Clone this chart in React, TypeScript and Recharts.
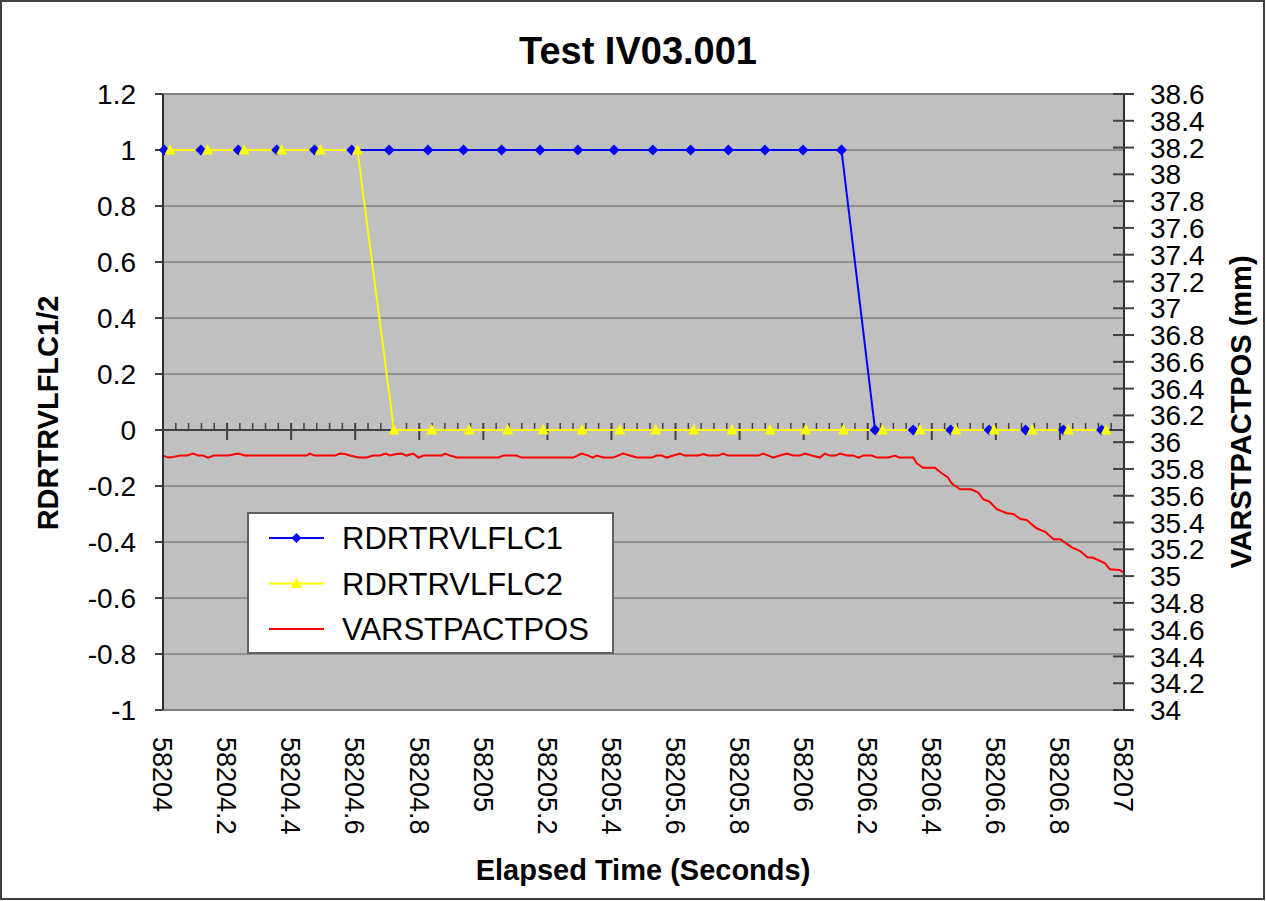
import React from 'react';
import {
  LineChart,
  Line,
  XAxis,
  YAxis,
  CartesianGrid,
  ReferenceLine,
  Legend,
  Label
} from 'recharts';

const FONT = "'Liberation Sans', Arial, sans-serif";

// axis ticks
const xTicks = [
  58204, 58204.2, 58204.4, 58204.6, 58204.8, 58205, 58205.2, 58205.4,
  58205.6, 58205.8, 58206, 58206.2, 58206.4, 58206.6, 58206.8, 58207
];
const leftTicks = [-1, -0.8, -0.6, -0.4, -0.2, 0, 0.2, 0.4, 0.6, 0.8, 1, 1.2];
const rightTicks = [
  34, 34.2, 34.4, 34.6, 34.8, 35, 35.2, 35.4, 35.6, 35.8, 36, 36.2,
  36.4, 36.6, 36.8, 37, 37.2, 37.4, 37.6, 37.8, 38, 38.2, 38.4, 38.6
];

// RDRTRVLFLC1
const lfc1Time = [
  58204.004, 58204.118, 58204.235, 58204.355, 58204.473, 58204.589, 58204.706,
  58204.827, 58204.938, 58205.057, 58205.177, 58205.295, 58205.408, 58205.529,
  58205.647, 58205.765, 58205.879, 58205.998, 58206.118, 58206.223, 58206.342,
  58206.459, 58206.579, 58206.693, 58206.811, 58206.93
];
const lfc1Value = [
  1, 1, 1, 1, 1, 1, 1, 1, 1, 1, 1, 1, 1, 1, 1, 1, 1, 1, 1,
  0, 0, 0, 0, 0, 0, 0
];

// RDRTRVLFLC2
const lfc2Time = [
  58204.022, 58204.139, 58204.253, 58204.37, 58204.491, 58204.607, 58204.721,
  58204.839, 58204.956, 58205.076, 58205.187, 58205.308, 58205.426, 58205.538,
  58205.657, 58205.776, 58205.895, 58206.006, 58206.124, 58206.246, 58206.363,
  58206.475, 58206.594, 58206.713, 58206.826, 58206.944
];
const lfc2Value = [
  1, 1, 1, 1, 1, 1,
  0, 0, 0, 0, 0, 0, 0, 0, 0, 0, 0, 0, 0, 0, 0, 0, 0, 0, 0, 0
];

// VARSTPACTPOS (mm)
const posTime = [
  58204.0, 58204.016, 58204.032, 58204.053, 58204.074, 58204.094, 58204.11,
  58204.125, 58204.141, 58204.158, 58204.204, 58204.235, 58204.256, 58204.448,
  58204.458, 58204.474, 58204.537, 58204.553, 58204.568, 58204.584, 58204.61,
  58204.636, 58204.656, 58204.677, 58204.696, 58204.708, 58204.729, 58204.745,
  58204.76, 58204.781, 58204.797, 58204.813, 58204.87, 58204.881, 58204.896,
  58204.917, 58205.046, 58205.062, 58205.104, 58205.119, 58205.281, 58205.307,
  58205.328, 58205.341, 58205.354, 58205.374, 58205.405, 58205.436, 58205.458,
  58205.479, 58205.526, 58205.541, 58205.557, 58205.573, 58205.593, 58205.614,
  58205.629, 58205.671, 58205.686, 58205.702, 58205.733, 58205.749, 58205.764,
  58205.859, 58205.874, 58205.89, 58205.905, 58205.926, 58205.947, 58205.968,
  58205.988, 58206.004, 58206.025, 58206.051, 58206.066, 58206.082, 58206.098,
  58206.114, 58206.135, 58206.155, 58206.171, 58206.186, 58206.213, 58206.228,
  58206.264, 58206.285, 58206.298, 58206.342, 58206.353, 58206.373, 58206.41,
  58206.431, 58206.45, 58206.462, 58206.488, 58206.522, 58206.545, 58206.561,
  58206.58, 58206.603, 58206.634, 58206.654, 58206.677, 58206.696, 58206.727,
  58206.754, 58206.78, 58206.801, 58206.837, 58206.863, 58206.886, 58206.904,
  58206.941, 58206.956, 58206.987, 58207.0
];
const posValue = [
  35.9, 35.885, 35.89, 35.9, 35.9, 35.915, 35.9,
  35.9, 35.885, 35.9, 35.9, 35.915, 35.9, 35.9,
  35.915, 35.9, 35.9, 35.915, 35.912, 35.9, 35.885,
  35.885, 35.9, 35.9, 35.915, 35.9, 35.912, 35.915,
  35.9, 35.915, 35.885, 35.9, 35.9, 35.915, 35.9,
  35.885, 35.885, 35.9, 35.9, 35.885, 35.885, 35.915,
  35.9, 35.885, 35.9, 35.885, 35.885, 35.915, 35.9,
  35.885, 35.885, 35.9, 35.9, 35.885, 35.9, 35.915,
  35.9, 35.9, 35.912, 35.9, 35.9, 35.915, 35.9,
  35.9, 35.915, 35.9, 35.885, 35.9, 35.915, 35.9,
  35.9, 35.915, 35.9, 35.885, 35.915, 35.9, 35.9,
  35.915, 35.9, 35.9, 35.885, 35.9, 35.9, 35.885,
  35.885, 35.9, 35.885, 35.885, 35.842, 35.809, 35.809,
  35.768, 35.738, 35.693, 35.648, 35.648, 35.623, 35.573,
  35.556, 35.499, 35.469, 35.464, 35.426, 35.419, 35.357,
  35.331, 35.275, 35.275, 35.215, 35.187, 35.14, 35.137,
  35.095, 35.051, 35.045, 35.025
];

const lfc1Data = lfc1Time.map((t, i) => ({ t, v: lfc1Value[i] }));
const lfc2Data = lfc2Time.map((t, i) => ({ t, v: lfc2Value[i] }));
const posData = posTime.map((t, i) => ({ t, v: posValue[i] }));

// small tick marks on the zero line, every 0.04 s
const minorTicks: number[] = [];
for (let i = 1; i < 75; i++) {
  if (i % 5 !== 0) minorTicks.push(58204 + i * 0.04);
}

const Diamond = (p: any) => {
  const { cx, cy, index } = p;
  if (cx == null || cy == null) return <g key={`d${index}`} />;
  const r = 5.5;
  return (
    <path
      key={`d${index}`}
      d={`M${cx},${cy - r}L${cx + r},${cy}L${cx},${cy + r}L${cx - r},${cy}Z`}
      fill="#0000ff"
    />
  );
};

const Triangle = (p: any) => {
  const { cx, cy, index } = p;
  if (cx == null || cy == null) return <g key={`t${index}`} />;
  return (
    <path
      key={`t${index}`}
      d={`M${cx},${cy - 6}L${cx + 5.5},${cy + 4.5}L${cx - 5.5},${cy + 4.5}Z`}
      fill="#ffff00"
    />
  );
};

const XTick = (p: any) => (
  <text
    x={p.x}
    y={p.y}
    transform={`rotate(90 ${p.x} ${p.y})`}
    dy="0.36em"
    textAnchor="start"
    fontSize={27}
    fontFamily={FONT}
    fill="#000"
  >
    {String(p.payload.value)}
  </text>
);

const RightTick = (p: any) => {
  const axisX = p.x - 26;
  return (
    <g>
      <line x1={axisX - 11} x2={axisX + 10} y1={p.y} y2={p.y} stroke="#404040" strokeWidth={2} />
      <text x={p.x} y={p.y} dy="0.36em" textAnchor="start" fontSize={28} fontFamily={FONT} fill="#000">
        {String(p.payload.value)}
      </text>
    </g>
  );
};

const LegendBox = () => {
  const rows = [
    { name: 'RDRTRVLFLC1', color: '#0000ff', marker: 'diamond' },
    { name: 'RDRTRVLFLC2', color: '#ffff00', marker: 'triangle' },
    { name: 'VARSTPACTPOS', color: '#ff0000', marker: 'none' }
  ];
  return (
    <svg width={367} height={142} style={{ display: 'block' }}>
      <rect x={1} y={1} width={365} height={140} fill="#fff" stroke="#606060" strokeWidth={2} />
      {rows.map((r, i) => {
        const y = 26 + i * 45.5;
        return (
          <g key={r.name}>
            <line x1={22} x2={77} y1={y} y2={y} stroke={r.color} strokeWidth={2} />
            {r.marker === 'diamond' && (
              <path d={`M49.5,${y - 5}L54.5,${y}L49.5,${y + 5}L44.5,${y}Z`} fill={r.color} />
            )}
            {r.marker === 'triangle' && (
              <path d={`M49.5,${y - 6}L55,${y + 4.5}L44,${y + 4.5}Z`} fill={r.color} />
            )}
            <text x={95} y={y} dy="0.36em" fontSize={31} fontFamily={FONT} fill="#000">
              {r.name}
            </text>
          </g>
        );
      })}
    </svg>
  );
};

const App: React.FC = () => {
  return (
    <div style={{ position: 'absolute', left: 0, top: 0, width: 1266, height: 901, background: '#fff' }}>
      <LineChart
        width={1266}
        height={901}
        margin={{ top: 94, right: 82, bottom: 161, left: 103 }}
      >
        <CartesianGrid
          yAxisId="left"
          vertical={false}
          stroke="#606060"
          fill="#c0c0c0"
          fillOpacity={1}
        />
        <XAxis
          dataKey="t"
          type="number"
          domain={[58204, 58207]}
          ticks={xTicks}
          interval={0}
          height={30}
          tickSize={0}
          tickMargin={27}
          tickLine={false}
          axisLine={{ stroke: '#808080', strokeWidth: 2 }}
          tick={XTick}
        >
          <Label
            content={() => (
              <text x={643} y={870} textAnchor="middle" dominantBaseline="central" fontSize={29} fontWeight="bold" fontFamily={FONT} fill="#000">
                Elapsed Time (Seconds)
              </text>
            )}
          />
        </XAxis>
        <YAxis
          yAxisId="left"
          domain={[-1, 1.2]}
          ticks={leftTicks}
          interval={0}
          width={60}
          tickSize={8}
          tickMargin={19}
          axisLine={{ stroke: '#303030', strokeWidth: 2 }}
          tickLine={{ stroke: '#404040', strokeWidth: 2 }}
          tick={{ fontSize: 28, fill: '#000', fontFamily: FONT }}
        >
          <Label
            content={() => (
              <text x={48} y={413} transform="rotate(-90 48 413)" textAnchor="middle" dominantBaseline="central" fontSize={29} fontWeight="bold" fontFamily={FONT} fill="#000">
                RDRTRVLFLC1/2
              </text>
            )}
          />
          <Label
            content={() => (
              <text x={638} y={51} textAnchor="middle" dominantBaseline="central" fontSize={38} fontWeight="bold" fontFamily={FONT} fill="#000">
                Test IV03.001
              </text>
            )}
          />
        </YAxis>
        <YAxis
          yAxisId="right"
          orientation="right"
          domain={[34, 38.6]}
          ticks={rightTicks}
          interval={0}
          width={60}
          tickSize={10}
          tickMargin={16}
          tickLine={false}
          axisLine={{ stroke: '#303030', strokeWidth: 2 }}
          tick={RightTick}
        >
          <Label
            content={() => (
              <text x={1241} y={412} transform="rotate(-90 1241 412)" textAnchor="middle" dominantBaseline="central" fontSize={29} fontWeight="bold" fontFamily={FONT} fill="#000">
                VARSTPACTPOS (mm)
              </text>
            )}
          />
        </YAxis>

        <ReferenceLine yAxisId="left" y={1.2} stroke="#808080" strokeWidth={2} />
        <ReferenceLine yAxisId="left" y={0} stroke="#404040" strokeWidth={2} />
        {xTicks.map((t) => (
          <ReferenceLine
            key={`maj${t}`}
            yAxisId="left"
            segment={[{ x: t, y: 0.025 }, { x: t, y: -0.036 }]}
            stroke="#404040"
            strokeWidth={2}
          />
        ))}
        {minorTicks.map((t) => (
          <ReferenceLine
            key={`min${t}`}
            yAxisId="left"
            segment={[{ x: t, y: 0.025 }, { x: t, y: 0 }]}
            stroke="#404040"
            strokeWidth={1.5}
          />
        ))}

        <Line
          yAxisId="left"
          data={lfc1Data}
          dataKey="v"
          name="RDRTRVLFLC1"
          type="linear"
          stroke="#0000ff"
          strokeWidth={2}
          dot={Diamond}
          activeDot={false}
          isAnimationActive={false}
        />
        <Line
          yAxisId="left"
          data={lfc2Data}
          dataKey="v"
          name="RDRTRVLFLC2"
          type="linear"
          stroke="#ffff00"
          strokeWidth={2}
          dot={Triangle}
          activeDot={false}
          isAnimationActive={false}
        />
        <Line
          yAxisId="right"
          data={posData}
          dataKey="v"
          name="VARSTPACTPOS"
          type="linear"
          stroke="#ff0000"
          strokeWidth={2}
          dot={false}
          activeDot={false}
          isAnimationActive={false}
        />
        <Legend
          layout="vertical"
          align="center"
          verticalAlign="middle"
          wrapperStyle={{ left: 247, top: 512, width: 367, height: 142 }}
          content={LegendBox}
        />
      </LineChart>
      <div
        style={{
          position: 'absolute',
          left: 0,
          top: 0,
          width: 1265,
          height: 900,
          boxSizing: 'border-box',
          border: '2px solid #404040',
          pointerEvents: 'none'
        }}
      />
    </div>
  );
};

export default App;
